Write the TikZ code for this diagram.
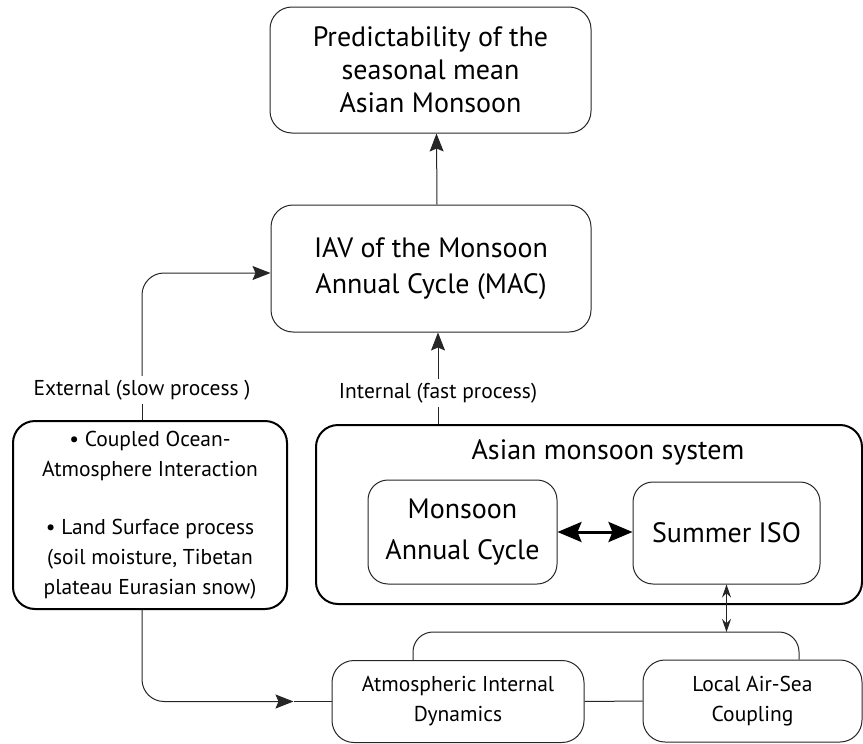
\documentclass[tikz,border=0pt]{standalone}
\usepackage{fontspec}
\setmainfont{PT Sans}
\usetikzlibrary{arrows.meta}
\tikzset{
  round box/.style={
    draw=black!85,
    line width=1pt,
    rounded corners=22pt,
    align=center,
    inner sep=0pt,
    font=\fontsize{28}{36}\selectfont,
  },
  bold box/.style={
    round box,
    draw=black,
    line width=2pt,
  },
  small text/.style={
    font=\fontsize{21.5}{30}\selectfont,
  },
  link/.style={
    draw=black!85,
    line width=1pt,
  },
  flow/.style={
    link,
    -{Stealth[length=18pt,width=14pt,inset=3pt]},
  },
}

\begin{document}
\begin{tikzpicture}[x=1pt,y=-1pt]
  \useasboundingbox (0,0) rectangle (863,744);

  \node [round box, minimum width=321pt, minimum height=126pt,
         font=\fontsize{28}{33}\selectfont] (pred) at (430.5,70)
        {Predictability of the\\seasonal mean\\Asian Monsoon};
  \node [round box, minimum width=320pt, minimum height=127pt] (iav) at (431,268.5)
        {IAV of the Monsoon\\Annual Cycle (MAC)};

  % monsoon system
  \node [bold box, minimum width=546pt, minimum height=179pt] (sys) at (589,514.5) {};
  \node [font=\fontsize{28}{34}\selectfont] (systitle) at (608,452) {Asian monsoon system};
  \node [round box, rounded corners=20pt, minimum width=189pt, minimum height=104pt,
         font=\fontsize{28}{41}\selectfont] (mac) at (462.5,532) {Monsoon\\Annual Cycle};
  \node [round box, rounded corners=20pt, minimum width=187pt, minimum height=102pt] (iso) at (726.5,533)
        {Summer ISO};

  \node [bold box, small text, minimum width=274pt, minimum height=188pt] (ext) at (150,515)
        {\textbullet\ Coupled Ocean-\\Atmosphere Interaction\\[28pt]%
         \textbullet\ Land Surface process\\(soil moisture, Tibetan\\plateau Eurasian snow)};

  \node [small text, inner sep=4pt] (extlbl) at (142,390) {External (slow process )};
  \node [small text, inner sep=4pt] (intlbl) at (438,393) {Internal (fast process)};

  \node [round box, small text, minimum width=252pt, minimum height=82pt] (atm) at (458,701.5)
        {Atmospheric Internal\\Dynamics};
  \node [round box, small text, minimum width=219pt, minimum height=82pt] (loc) at (752.5,701)
        {Local Air-Sea\\Coupling};

  % connectors
  \draw [flow] ([xshift=6pt]iav.north) -- ([xshift=6pt]pred.south);
  \draw [link] (sys.north -| intlbl) -- (intlbl.south);
  \draw [flow] (intlbl.north) -- (iav.south -| intlbl);
  \draw [link] (ext.north -| extlbl) -- (extlbl.south);
  \draw [flow, rounded corners=22pt] (extlbl.north) |- ([yshift=-4.5pt]iav.west);

  \coordinate (tip) at ([xshift=-38pt]atm.west);
  \draw [flow, rounded corners=22pt] (ext.south -| extlbl) |- (tip);
  \draw [link] (tip) -- (atm.west);

  \draw [link, line width=3pt, draw=black,
         {Stealth[length=24pt,width=20pt,inset=4pt]}-{Stealth[length=24pt,width=20pt,inset=4pt]}]
        (mac.east) -- (iso.west |- mac.east);

  \coordinate (split) at (iso.south |- 0,632);
  \draw [link, rounded corners=20pt] ([xshift=-45pt]atm.north) |- (split) -| ([xshift=46.5pt]loc.north);
  \draw [link, {Stealth[length=13pt,width=9pt]}-{Stealth[length=13pt,width=9pt]}] (iso.south) -- (split);
  \draw [link] (atm.east) -- (loc.west);
\end{tikzpicture}
\end{document}
